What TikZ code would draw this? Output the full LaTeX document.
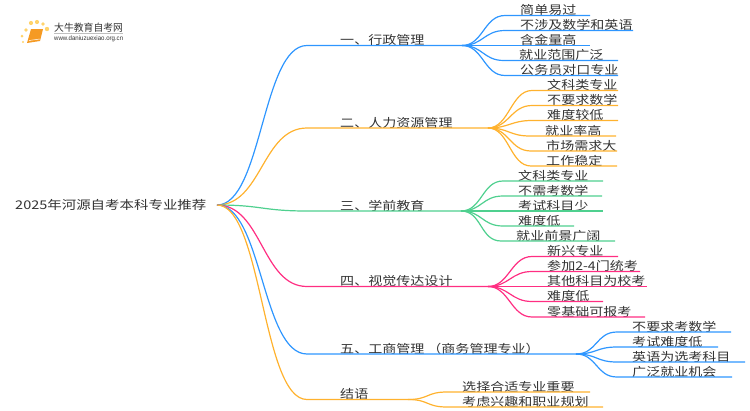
\documentclass[tikz,border=0pt]{standalone}
\usepackage{fontspec}
\setmainfont{Noto Sans CJK SC}[Kerning=Off]
\setsansfont{Liberation Sans}
\definecolor{brblue}{HTML}{2E96FF}
\definecolor{brorange}{HTML}{FFB22E}
\definecolor{brgreen}{HTML}{4FD08F}
\definecolor{brpink}{HTML}{FF2E82}
\definecolor{txtgrey}{HTML}{333333}
\definecolor{logoorange}{HTML}{F59A23}
\definecolor{logodot}{HTML}{FFD36B}
\tikzset{
  txt/.style={anchor=west,inner sep=0pt,text=txtgrey,font=\fontsize{12}{12}\selectfont,xscale=1.17,transform shape},
  line/.style={line width=1.2pt},
  dot/.style={fill=logodot,draw=none}
}
% branch: name, y, junction x, text
\newcommand{\branch}[4]{
  \node[txt] (#1) at (340,{#2-5.5}) {#4};
  \coordinate (#1j) at (#3,#2);
  \draw[line] (hub) .. controls (262,205) and (262,#2) .. (307,#2) -- (#1j);
}
% leaf: parent, name, x, y, line end, text
\newcommand{\leaf}[6]{
  \node[txt] (#2) at (#3,{#4-5.5}) {#6};
  \coordinate (#2s) at ({#3-15},#4);
  \coordinate (#2e) at (#5,#4);
  \draw[line] (#1j) .. controls +(21,0) and +(-21,0) .. (#2s) -- (#2e);
}
\begin{document}
\begin{tikzpicture}[x=1pt,y=-1pt]
  \useasboundingbox (0,0) rectangle (750,410);
  % logo
  \fill[dot] (23,42) circle(1.2);
  \fill[dot] (22,36) circle(1.5);
  \fill[dot] (26,30) circle(1.8);
  \fill[dot] (31,23) circle(2.1);
  \fill[dot] (37,22) circle(2.1);
  \fill[dot] (43,24) circle(1.9);
  \fill[dot] (47,29) circle(2.2);
  \fill[logoorange] (31,29) -- (43,29) -- (40,41) -- (27,43) -- cycle;
  \draw[white,line width=0.5pt] (29,40.5) -- (40,39);
  \node[txt,anchor=west,xscale=0.84,font=\fontsize{10}{10}\selectfont] (logotxt) at (54,27.5) {大牛教育自考网};
  \node[txt,anchor=west,xscale=0.8,font=\sffamily\fontsize{6.5}{6.5}\selectfont] (logourl) at (54,39) {www.daniuzuexiao.org.cn};
  \draw[black!25,line width=0.5pt] (54,33) -- (123,33);
  % root
  \node[txt,xscale=1.03] (root) at (15,205) {2025年河源自考本科专业推荐};
  \coordinate (hub) at (217,205);
  % one
  \begin{scope}[color=brblue]
   \branch{adm}{45.5}{462}{一、行政管理}
   \leaf{adm}{adma}{520}{15.5}{590}{简单易过}
   \leaf{adm}{admb}{520}{30.5}{633}{不涉及数学和英语}
   \leaf{adm}{admc}{520}{45.5}{590}{含金量高}
   \leaf{adm}{admd}{519}{60.5}{618}{就业范围广泛}
   \leaf{adm}{adme}{520}{75.5}{618}{公务员对口专业}
  \end{scope}
  % two
  \begin{scope}[color=brorange]
   \branch{hr}{128}{488}{二、人力资源管理}
   \leaf{hr}{hra}{547}{90.5}{618}{文科类专业}
   \leaf{hr}{hrb}{547}{105.5}{618}{不要求数学}
   \leaf{hr}{hrc}{547}{120.5}{618}{难度较低}
   \leaf{hr}{hrd}{545}{136}{616}{就业率高}
   \leaf{hr}{hre}{546}{151}{617}{市场需求大}
   \leaf{hr}{hrf}{546}{166}{617}{工作稳定}
  \end{scope}
  % three
  \begin{scope}[color=brgreen]
   \branch{pre}{211}{461}{三、学前教育}
   \leaf{pre}{prea}{518}{181}{603}{文科类专业}
   \leaf{pre}{preb}{518}{196}{602}{不需考数学}
   \leaf{pre}{prec}{518}{211}{603}{考试科目少}
   \leaf{pre}{pred}{518}{226}{574}{难度低}
   \leaf{pre}{pree}{516}{241}{615}{就业前景广阔}
  \end{scope}
  % four
  \begin{scope}[color=brpink]
   \branch{vis}{286.5}{488}{四、视觉传达设计}
   \leaf{vis}{visa}{547}{256.5}{618}{新兴专业}
   \leaf{vis}{visb}{547}{271.5}{640}{参加2-4门统考}
   \leaf{vis}{visc}{547}{286.5}{647}{其他科目为校考}
   \leaf{vis}{visd}{547}{301.5}{603}{难度低}
   \leaf{vis}{vise}{547}{317}{645}{零基础可报考}
  \end{scope}
  % five
  \begin{scope}[color=brblue]
   \branch{biz}{354}{576}{五、工商管理\hspace{2.5pt}（商务管理专业）}
   \leaf{biz}{biza}{632}{332}{731}{不要求考数学}
   \leaf{biz}{bizb}{632}{347}{718}{考试难度低}
   \leaf{biz}{bizc}{632}{362}{745}{英语为选考科目}
   \leaf{biz}{bizd}{632}{377}{732}{广泛就业机会}
  \end{scope}
  % end
  \begin{scope}[color=brorange]
   \branch{fin}{399.5}{408}{结语}
   \leaf{fin}{fina}{462}{392}{590}{选择合适专业重要}
   \leaf{fin}{finb}{462}{407}{603}{考虑兴趣和职业规划}
  \end{scope}
\end{tikzpicture}
\end{document}
